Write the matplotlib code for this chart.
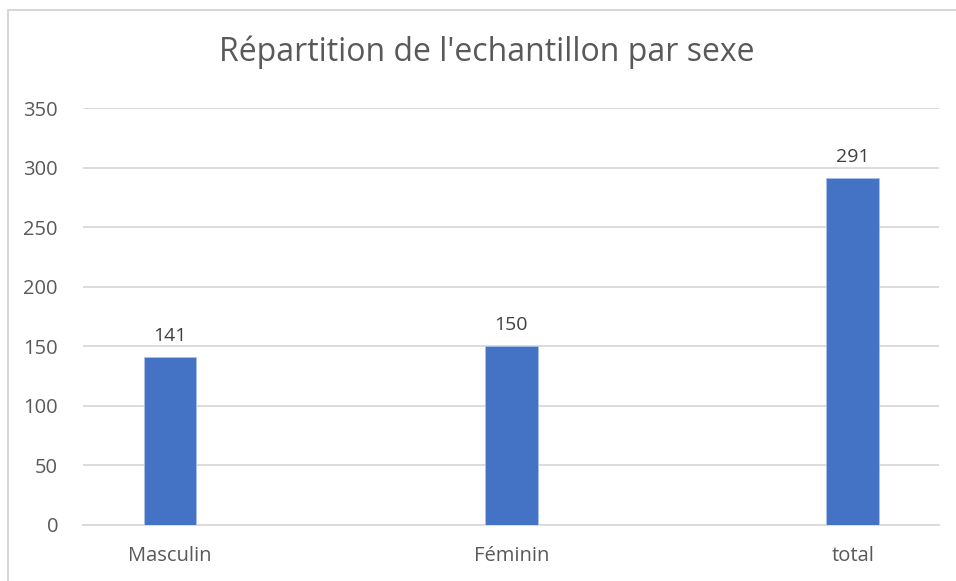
import matplotlib
matplotlib.use("Agg")
import matplotlib.pyplot as plt
from matplotlib.patches import Rectangle

categories = ["Masculin", "Féminin", "total"]
values = [141, 150, 291]
yticks = [0, 50, 100, 150, 200, 250, 300, 350]
title = "Répartition de l'echantillon par sexe"

plt.rcParams['font.family'] = ['Open Sans', 'DejaVu Sans']
W, H = 956, 581
fig = plt.figure(figsize=(W/100, H/100), dpi=100)
fig.patch.set_facecolor("white")

# outer chart frame (cropped at right/bottom)
fig.patches.append(Rectangle((8/W, -0.05), 1.2, 1 - 10/H + 0.05, transform=fig.transFigure,
                             fill=False, edgecolor="#d0d0d0", linewidth=1.2))

ax = fig.add_axes([83/W, 1 - 525/H, (939-83)/W, (525-108)/H])
x = list(range(len(categories)))
ax.bar(x, values, width=0.155, color="#4472C4", edgecolor="#a9c0e8", linewidth=0.6, zorder=3)
ax.set_xlim(-0.255, 2.253)
ax.set_ylim(0, 350)
ax.set_yticks(yticks)
ax.set_xticks(x)
ax.set_xticklabels(categories)
ax.grid(axis="y", color="#d9d9d9", linewidth=1.3, zorder=0)
for s in ["top", "right", "left"]:
    ax.spines[s].set_visible(False)
ax.spines["bottom"].set_color("#d9d9d9")
ax.spines["bottom"].set_linewidth(1.3)
ax.tick_params(axis="both", length=0, labelsize=14.5, labelcolor="#595959")
ax.tick_params(axis="y", pad=18)
ax.tick_params(axis="x", pad=15)
for xi, v in zip(x, values):
    ax.annotate(str(v), (xi, v), xytext=(0, 9), textcoords="offset points",
                ha="center", va="bottom", fontsize=14, color="#404040")

fig.text(487/W, 1 - 52/H, title, ha="center", va="center", fontsize=23, color="#595959")

fig.savefig("out.png", dpi=100, facecolor="white")
